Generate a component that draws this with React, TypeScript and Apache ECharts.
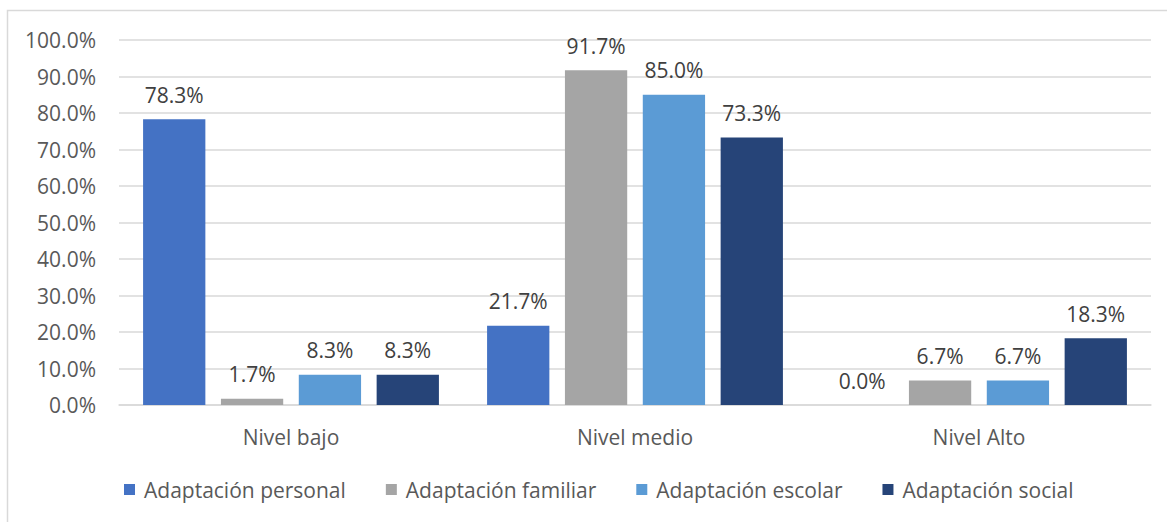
import React, { useEffect, useRef } from "react";
import * as echarts from "echarts";

const categories = ["Nivel bajo", "Nivel medio", "Nivel Alto"];
const seriesNames = [
  "Adaptación personal",
  "Adaptación familiar",
  "Adaptación escolar",
  "Adaptación social",
];
const personal = [78.3, 21.7, 0.0];
const familiar = [1.7, 91.7, 6.7];
const escolar = [8.3, 85.0, 6.7];
const social = [8.3, 73.3, 18.3];
const colors = ["#4472C4", "#A5A5A5", "#5B9BD5", "#264478"];

const FONT = "'Open Sans', sans-serif";
const FS = 21;

export default function App() {
  const ref = useRef<HTMLDivElement>(null);
  useEffect(() => {
    if (!ref.current) return;
    const chart = echarts.init(ref.current, undefined, { renderer: "svg" });
    const data = [personal, familiar, escolar, social];
    chart.setOption({
      animation: false,
      textStyle: { fontFamily: FONT },
      graphic: [
        {
          type: "rect",
          shape: { x: 7.5, y: 10.5, width: 1170, height: 530 },
          style: { fill: "none", stroke: "#d9d9d9", lineWidth: 1.5 },
          silent: true,
        },
      ],
      grid: { left: 119, right: 16, top: 40, bottom: 117, containLabel: false },
      legend: {
        bottom: 22,
        left: 124,
        padding: 0,
        icon: "rect",
        itemWidth: 11,
        itemHeight: 11,
        itemGap: 40,
        textStyle: { color: "#595959", fontSize: FS, fontFamily: FONT, padding: [0, 0, 0, 4] },
        data: seriesNames,
      },
      xAxis: {
        type: "category",
        data: categories,
        axisTick: { show: false },
        axisLine: { lineStyle: { color: "#d9d9d9", width: 1.5 } },
        axisLabel: { color: "#595959", fontSize: FS, margin: 21, fontFamily: FONT },
      },
      yAxis: {
        type: "value",
        min: 0,
        max: 100,
        interval: 10,
        axisLine: { show: false },
        axisTick: { show: false },
        splitLine: { lineStyle: { color: "#d9d9d9", width: 1.5 } },
        axisLabel: {
          color: "#595959",
          fontSize: FS,
          margin: 23,
          fontFamily: FONT,
          formatter: (v: number) => v.toFixed(1) + "%",
        },
      },
      series: seriesNames.map((name, i) => ({
        name,
        type: "bar",
        data: data[i],
        barGap: "25%",
        barCategoryGap: "14%",
        itemStyle: { color: colors[i] },
        label: {
          show: true,
          position: "top",
          distance: 14,
          color: "#404040",
          fontSize: FS,
          fontFamily: FONT,
          formatter: (p: any) => Number(p.value).toFixed(1) + "%",
        },
      })),
    });
    return () => chart.dispose();
  }, []);
  return (
    <div
      ref={ref}
      style={{ position: "absolute", left: 0, top: 0, width: 1167, height: 522, background: "#fff" }}
    />
  );
}
